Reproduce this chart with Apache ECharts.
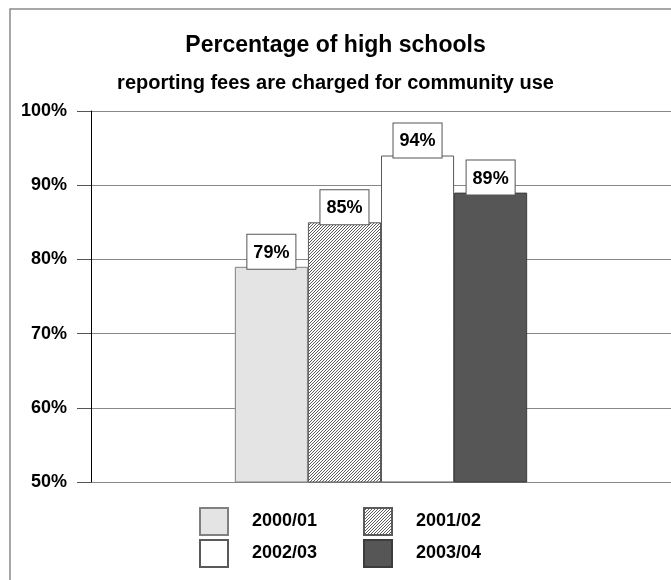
<!DOCTYPE html>
<html>
<head>
<meta charset="utf-8">
<script src="https://cdn.jsdelivr.net/npm/echarts@6/dist/echarts.min.js"></script>
<style>
  html, body { margin: 0; padding: 0; background: #fff; }
  #chart { width: 671px; height: 580px; }
</style>
</head>
<body>
<div id="chart"></div>
<script>
// Chart content
const titleLines = ['Percentage of high schools', 'reporting fees are charged for community use'];
const schoolYears = ['2000/01', '2001/02', '2002/03', '2003/04'];
const feePercent = [79, 85, 94, 89];
const axisMin = 50;
const axisMax = 100;
const axisStep = 10;

const FONT = '"Liberation Sans", Arial, sans-serif';

// Diagonal hatch tile for the second school year
function hatchTile() {
  const c = document.createElement('canvas');
  c.width = 3; c.height = 3;
  const g = c.getContext('2d');
  g.fillStyle = '#ffffff';
  g.fillRect(0, 0, 3, 3);
  g.fillStyle = '#5c5c5c';
  g.fillRect(2, 0, 1, 1);
  g.fillRect(1, 1, 1, 1);
  g.fillRect(0, 2, 1, 1);
  return c;
}

const fills = ['#e4e4e4', { image: hatchTile(), repeat: 'repeat' }, '#ffffff', '#565656'];
const edges = ['#808080', '#5a5a5a', '#5a5a5a', '#3c3c3c'];
const legendSpots = [[199, 507], [363, 507], [199, 539], [363, 539]];

const chart = echarts.init(document.getElementById('chart'), null, { renderer: 'canvas' });

const series = schoolYears.map((name, i) => ({
  name: name,
  type: 'bar',
  data: [feePercent[i]],
  barGap: '0%',
  barCategoryGap: '49.6%',
  itemStyle: { color: fills[i], borderColor: edges[i], borderWidth: 1 },
  label: {
    show: true,
    position: 'top',
    distance: -2,
    formatter: '{c}%',
    fontFamily: FONT,
    fontWeight: 'bold',
    fontSize: 18,
    color: '#000',
    backgroundColor: '#fff',
    borderColor: '#555',
    borderWidth: 1,
    padding: [9, 6, 7, 6]
  },
  emphasis: { disabled: true },
  animation: false
}));

const legends = schoolYears.map((name, i) => ({
  data: [{ name: name, icon: 'rect' }],
  left: legendSpots[i][0],
  top: legendSpots[i][1],
  itemWidth: 28,
  itemHeight: 27,
  padding: 0,
  selectedMode: false,
  textStyle: {
    fontFamily: FONT,
    fontWeight: 'bold',
    fontSize: 18,
    color: '#000',
    padding: [0, 0, 0, 19]
  }
}));

chart.setOption({
  animation: false,
  backgroundColor: '#fff',
  title: [
    {
      text: titleLines[0],
      left: 'center',
      top: 29,
      textStyle: { fontFamily: FONT, fontWeight: 'bold', fontSize: 23, color: '#000' }
    },
    {
      text: titleLines[1],
      left: 'center',
      top: 68,
      textStyle: { fontFamily: FONT, fontWeight: 'bold', fontSize: 20, color: '#000' }
    }
  ],
  legend: legends,
  // plot area runs slightly past the right edge of the canvas
  grid: { left: 91, width: 585, top: 111, bottom: 98, containLabel: false },
  xAxis: {
    type: 'category',
    data: [''],
    axisLine: { show: false },
    axisTick: { show: false },
    axisLabel: { show: false },
    splitLine: { show: false }
  },
  yAxis: {
    type: 'value',
    min: axisMin,
    max: axisMax,
    interval: axisStep,
    axisLine: { show: true, lineStyle: { color: '#000', width: 1 } },
    axisTick: { show: true, length: 14, lineStyle: { color: '#555' } },
    axisLabel: {
      formatter: '{value}%',
      margin: 24,
      fontFamily: FONT,
      fontWeight: 'bold',
      fontSize: 18,
      color: '#000'
    },
    splitLine: { show: true, lineStyle: { color: '#888', width: 1 } }
  },
  graphic: [{
    type: 'rect',
    shape: { x: 10, y: 9, width: 720, height: 640 },
    style: { fill: null, stroke: '#8a8a8a', lineWidth: 1.5 },
    silent: true,
    z: 100
  }],
  series: series
});
</script>
</body>
</html>
